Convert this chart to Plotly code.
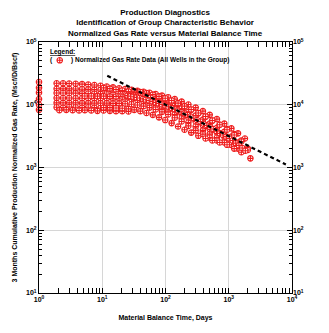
import plotly.graph_objects as go

# Material balance time grids (days)
T_A = [1.0, 1.9, 2.4, 3.0, 3.8, 4.8, 6.0, 7.5, 9.4, 11.8, 14.8, 18.5, 23, 29, 36, 45,
       56, 70, 88, 110, 140, 180, 230, 300, 390, 500, 650, 850, 1100, 1400, 1800, 2200]
T_B = [2.1, 2.7, 3.4, 4.3, 5.3, 6.7, 8.4, 10.5, 13.2, 16.5, 20.7, 26, 32, 40, 50, 63,
       79, 99, 125, 158, 200, 255, 330, 430, 550, 720, 940, 1220, 1580, 2000]
T_C = [18, 19.5, 21, 22.5, 24, 26, 28, 30, 32, 34, 36, 38, 41, 44, 47, 50, 54, 58]
T_D = [25, 28, 31, 35, 39, 44, 49, 55, 62, 70, 78, 88, 99, 111, 125, 140, 157, 176,
       198, 222, 250, 280, 315, 355, 400, 450, 505, 570, 640, 720, 810, 910, 1020,
       1150, 1290, 1450, 1630, 1830]

# Normalized gas rate per well (Mscf/D/Bscf)
Q_W1 = [23000, 22000, 22000, 21800, 21600, 21300, 21000, 20600, 20100, 19500, 18900,
        18300, 17800, 17300, 16700, 16100, 15500, 14800, 14000, 13200, 12300, 11200,
        10100, 9000, 7900, 6900, 5900, 5000, 4200, 3500, 2900]
Q_W2 = [18600, 18000, 17900, 17900, 17800, 17700, 17600, 17400, 17200, 16900, 16600,
        16200, 15800, 15300, 14700, 14000, 13300, 12500, 11600, 10700, 9700, 8700,
        7700, 6700, 5800, 5000, 4300, 3700, 3100, 2500, 1900, 1400]
Q_W3 = [15600, 15400, 15400, 15300, 15300, 15200, 15100, 15000, 14900, 14700, 14500,
        14300, 14000, 13600, 13000, 12300, 11500, 10700, 9800, 8900, 8000, 7100,
        6200, 5400, 4700, 4100, 3600, 3100, 2700, 2300, 1900]
Q_W4 = [12300, 12800, 12800, 12800, 12700, 12700, 12700, 12600, 12600, 12600, 12500,
        12500, 12400, 12200, 11800, 11200, 10500, 9700, 8800, 7900, 7000, 6100,
        5200, 4500, 3900, 3400, 3000, 2600, 2300, 2000]
Q_W5 = [10000, 10700, 10700, 10700, 10700, 10600, 10600, 10600, 10600, 10600, 10500,
        10500, 10400, 10200, 9900, 9500, 9000, 8400, 7700, 7000, 6200, 5400,
        4600, 3900, 3400, 3000, 2700, 2500, 2300]
Q_W6 = [8300, 9100, 9000, 9200, 9100, 9000, 9100, 9000, 8900, 9000, 8900, 8800]
Q_W7 = [8200, 8300, 8200, 8100, 8200, 8100, 8000, 8100, 8000, 7900, 7900, 7800]
Q_W8 = [9000, 9000, 8900, 8800, 8600, 8300, 7900, 7400, 6900, 6300, 5700, 5100,
        4500, 4000, 3600, 3200, 2900, 2700, 2500, 2300, 2000, 1750]
Q_W9 = [18600, 18100, 17500, 16900, 16300, 15700, 15100, 14500, 13800, 13000,
        12200, 11300, 10300, 9300, 8300, 7300, 6400, 5600, 4800, 4100, 3400,
        2700, 2000]
Q_W10 = [13800, 13800, 13700, 13700, 13600, 13500, 13400, 13200, 12900, 12500,
         12000, 11300, 10500, 9700, 8800, 7900, 7000, 6100, 5300, 4600,
         4000, 3500, 3000, 2600]
Q_W11 = [16500, 16000, 15300, 14500, 13600, 12700, 11700, 10600, 9500, 8400,
         7400, 6500, 5600, 4800, 4000, 3300, 2600, 1900]
Q_W12 = [15000, 14900, 14800, 14750, 14700, 14600, 14500, 14400, 14300, 14200,
         14100, 14000, 13850, 13700, 13550, 13400, 13200, 13000]
Q_W13 = [14000, 13700, 13400, 13100, 12800, 12400, 12000, 11700, 11300, 10900,
         10500, 10100, 9700, 9300, 8900, 8500, 8100, 7700, 7300, 6900,
         6500, 6100, 5700, 5400, 5000, 4700, 4400, 4100, 3800, 3500,
         3300, 3100, 2900, 2700, 2450, 2250, 2050, 1850]

# (time grid, first index, rates) for each well
WELLS = [
    (T_A, 0, Q_W1), (T_A, 0, Q_W2), (T_A, 0, Q_W3), (T_A, 0, Q_W4), (T_A, 0, Q_W5),
    (T_A, 0, Q_W6), (T_B, 0, Q_W7), (T_B, 7, Q_W8), (T_B, 7, Q_W9), (T_B, 4, Q_W10),
    (T_B, 12, Q_W11), (T_C, 0, Q_W12), (T_D, 0, Q_W13),
]

# Half-slope reference line end points
LINE_T = [12, 8000]
LINE_Q = [28900, 1118]

X_TICKS = [1, 10, 100, 1000, 10000]
Y_TICKS = [10, 100, 1000, 10000, 100000]
X_MINOR = [m * d for d in (1, 10, 100, 1000) for m in range(2, 10)]
Y_MINOR = [m * d for d in (10, 100, 1000, 10000) for m in range(2, 10)]

FONT = "Liberation Sans"
RED = "#ee1c1c"
MARKER = dict(symbol="circle-cross", size=5.5, color="white",
              line=dict(color=RED, width=1.1))

fig = go.Figure()

for grid, start, q in WELLS:
    fig.add_trace(go.Scatter(
        x=grid[start:start + len(q)], y=q, mode="markers", marker=MARKER,
        cliponaxis=False, showlegend=False, hoverinfo="skip"))

fig.add_trace(go.Scatter(
    x=LINE_T, y=LINE_Q, mode="lines",
    line=dict(color="black", width=2.2, dash="4px,3px"),
    showlegend=False, hoverinfo="skip"))

# legend symbol on an overlay frame in paper units
fig.add_trace(go.Scatter(
    x=[0.082], y=[0.927], xaxis="x3", yaxis="y3", mode="markers", marker=MARKER,
    showlegend=False, hoverinfo="skip"))

# right-hand copy of the rate axis
fig.add_trace(go.Scatter(x=[1], y=[1000], yaxis="y2", mode="markers",
                         marker=dict(opacity=0), showlegend=False, hoverinfo="skip"))

def sup_labels(vals):
    return ["<b>10<sup>%d</sup></b>" % len(str(v)[1:]) for v in vals]

tickfont = dict(family=FONT, size=7, color="black")
note_font = dict(family=FONT, size=6.5, color="black")

fig.update_layout(
    width=329, height=333,
    margin=dict(l=39, r=37, t=42, b=40),
    paper_bgcolor="white", plot_bgcolor="white",
    font=dict(family=FONT, color="black"),
    xaxis=dict(
        type="log", range=[0, 4], tickvals=X_TICKS, ticktext=sup_labels(X_TICKS),
        tickfont=tickfont, ticks="inside", ticklen=5, tickcolor="black",
        showline=True, linecolor="black", linewidth=1, mirror="allticks",
        showgrid=True, gridcolor="#d6d6d6", gridwidth=1, zeroline=False,
        minor=dict(tickvals=X_MINOR, ticks="inside", ticklen=3, tickcolor="black",
                   showgrid=False),
        title=dict(text="<b>Material Balance Time, Days</b>",
                   font=dict(family=FONT, size=7), standoff=12)),
    yaxis=dict(
        type="log", range=[1, 5], tickvals=Y_TICKS, ticktext=sup_labels(Y_TICKS),
        tickfont=tickfont, ticks="inside", ticklen=5, tickcolor="black",
        showline=True, linecolor="black", linewidth=1, mirror="allticks",
        showgrid=True, gridcolor="#d6d6d6", gridwidth=1, zeroline=False,
        minor=dict(tickvals=Y_MINOR, ticks="inside", ticklen=3, tickcolor="black",
                   showgrid=False),
        title=dict(text="<b>3 Months Cumulative Production Normalized Gas Rate, (Mscf/D/Bscf)</b>",
                   font=dict(family=FONT, size=7), standoff=7)),
    yaxis2=dict(
        type="log", range=[1, 5], overlaying="y", side="right",
        tickvals=Y_TICKS, ticktext=sup_labels(Y_TICKS), tickfont=tickfont,
        ticks="", showline=False, showgrid=False, zeroline=False),
    xaxis3=dict(domain=[0, 1], range=[0, 1], visible=False, anchor="y3", overlaying="x"),
    yaxis3=dict(domain=[0, 1], range=[0, 1], visible=False, anchor="x3", overlaying="y"),
    annotations=[
        dict(text="<b>Production Diagnostics<br>Identification of Group Characteristic Behavior"
                  "<br>Normalized Gas Rate versus Material Balance Time</b>",
             xref="paper", yref="paper", x=0.5, y=1.0757, xanchor="center",
             yanchor="middle", showarrow=False,
             font=dict(family=FONT, size=8, color="black")),
        dict(text="<b><u>Legend:</u></b>", xref="paper", yref="paper", x=0.035, y=0.962,
             xanchor="left", yanchor="middle", showarrow=False, font=note_font),
        dict(text="<b>(</b>", xref="paper", yref="paper", x=0.035, y=0.927,
             xanchor="left", yanchor="middle", showarrow=False, font=note_font),
        dict(text="<b>) Normalized Gas Rate Data (All Wells in the Group)</b>",
             xref="paper", yref="paper", x=0.118, y=0.927,
             xanchor="left", yanchor="middle", showarrow=False, font=note_font),
    ],
)

fig.write_html("out.html")
